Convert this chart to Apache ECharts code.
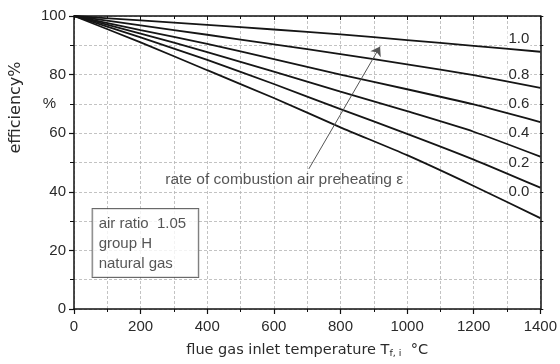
<!DOCTYPE html>
<html>
<head>
<meta charset="utf-8">
<script src="https://cdn.jsdelivr.net/npm/echarts@6/dist/echarts.min.js"></script>
<style>
  html, body { margin: 0; padding: 0; background: #fff; }
  #chart { width: 560px; height: 364px; }
</style>
</head>
<body>
<div id="chart"></div>
<script>
// Flue gas inlet temperature (°C)
const temps = [0, 200, 400, 600, 800, 1000, 1200, 1400];

// Efficiency (%) for each rate of combustion air preheating ε
const effEps10 = [100, 98.5, 97.0, 95.4, 93.7, 91.8, 89.8, 87.8];
const effEps08 = [100, 96.8, 93.6, 90.3, 87.0, 83.5, 79.8, 75.5];
const effEps06 = [100, 95.2, 90.5, 85.3, 80.0, 75.0, 69.8, 63.8];
const effEps04 = [100, 94.0, 87.7, 81.0, 74.2, 67.5, 60.5, 52.0];
const effEps02 = [100, 92.7, 85.0, 76.8, 68.2, 59.8, 51.0, 41.4];
const effEps00 = [100, 91.0, 81.5, 72.0, 62.0, 52.5, 42.0, 31.0];

const epsNames = ['1.0', '0.8', '0.6', '0.4', '0.2', '0.0'];
const epsCurves = [effEps10, effEps08, effEps06, effEps04, effEps02, effEps00];

// Right-hand axis values that carry the ε labels
const epsLabelAt = [90, 80, 70, 60, 50, 40];

const xTicks = [0, 200, 400, 600, 800, 1000, 1200, 1400];
const yTicks = [0, 20, 40, 60, 80, 100];

// Annotation anchors (data units)
const boxAnchor = [56, 34.1];
const noteAnchor = [274, 44.1];
const arrowFrom = [705, 47.8];
const arrowTo = [919, 89.6];

const FONT = 'Liberation Sans, Arial, sans-serif';
const WIDE = 'DejaVu Sans, sans-serif';
const INK = '#2a2a2a';
const gridLine = { show: true, lineStyle: { color: '#b4b4b4', type: [3, 2], width: 0.8 } };

const chart = echarts.init(document.getElementById('chart'), null, { renderer: 'canvas' });

const lineSeries = epsCurves.map((vals, i) => ({
  name: 'ε = ' + epsNames[i],
  type: 'line',
  xAxisIndex: 0,
  yAxisIndex: 0,
  data: temps.map((t, k) => [t, vals[k]]),
  symbol: 'none',
  smooth: 0.2,
  lineStyle: { color: '#151515', width: 1.8 },
  silent: true,
  z: 3
}));

const epsLabelMap = {};
epsLabelAt.forEach((v, i) => { epsLabelMap[v] = epsNames[i]; });

const option = {
  backgroundColor: '#fff',
  animation: false,
  textStyle: { fontFamily: FONT },
  grid: { left: 73, right: 16, top: 16, bottom: 49 },
  xAxis: [
    {
      type: 'value', position: 'bottom',
      min: 0, max: 1400, interval: 200,
      axisLine: { show: true, onZero: false, lineStyle: { color: '#111', width: 1.5 } },
      axisTick: { show: true, inside: false, length: 5, lineStyle: { color: '#111', width: 1.2 } },
      minorTick: { show: true, splitNumber: 2, length: 3, lineStyle: { color: '#111', width: 1 } },
      axisLabel: {
        fontSize: 15, color: INK, margin: 10, fontFamily: FONT,
        formatter: v => (xTicks.indexOf(v) >= 0 ? String(v) : '')
      },
      splitLine: gridLine,
      minorSplitLine: gridLine,
      name: 'flue gas inlet temperature T{sub|f, i}  °C',
      nameLocation: 'middle',
      nameGap: 33,
      nameTextStyle: {
        fontSize: 14.5, color: INK, fontFamily: WIDE,
        rich: { sub: { fontSize: 9.5, color: INK, fontFamily: WIDE, verticalAlign: 'bottom', padding: [7, 0, 0, 0] } }
      }
    },
    {
      type: 'value', position: 'top',
      min: 0, max: 1400, interval: 200,
      axisLine: { show: true, onZero: false, lineStyle: { color: '#111', width: 1.5 } },
      axisTick: { show: true, inside: true, length: 4, lineStyle: { color: '#111', width: 1 } },
      minorTick: { show: true, splitNumber: 2, length: 3, lineStyle: { color: '#111', width: 1 } },
      axisLabel: { show: false },
      splitLine: { show: false }
    }
  ],
  yAxis: [
    {
      type: 'value', position: 'left',
      min: 0, max: 100, interval: 20,
      axisLine: { show: true, onZero: false, lineStyle: { color: '#111', width: 1.5 } },
      axisTick: { show: true, inside: false, length: 5, lineStyle: { color: '#111', width: 1.2 } },
      minorTick: { show: true, splitNumber: 2, length: 4, lineStyle: { color: '#111', width: 1 } },
      axisLabel: {
        fontSize: 15, color: INK, margin: 8, fontFamily: FONT,
        formatter: v => (yTicks.indexOf(v) >= 0 ? String(v) : '')
      },
      splitLine: gridLine,
      minorSplitLine: gridLine,
      name: 'efficiency%',
      nameLocation: 'middle',
      nameGap: 50,
      nameRotate: 90,
      nameTextStyle: { fontSize: 16, color: INK, fontFamily: WIDE, padding: [0, 0, 0, 110] }
    },
    {
      // unit marker between the 60 and 80 labels
      type: 'value', position: 'left', offset: 0,
      min: 0, max: 100, interval: 10,
      axisLine: { show: false },
      axisTick: { show: false },
      splitLine: { show: false },
      axisLabel: {
        fontSize: 15, color: INK, margin: 18, fontFamily: FONT,
        formatter: v => (v === 70 ? '%' : '')
      }
    },
    {
      // right frame carrying the ε labels
      type: 'value', position: 'right', offset: 0,
      min: 0, max: 100, interval: 10,
      axisLine: { show: true, onZero: false, lineStyle: { color: '#111', width: 1.5 } },
      axisTick: { show: true, inside: false, length: 3, lineStyle: { color: '#111', width: 1 } },
      splitLine: { show: false },
      axisLabel: {
        inside: true, margin: 10, fontSize: 15, color: INK, fontFamily: FONT,
        backgroundColor: '#fff', padding: [1, 1, 1, 1],
        formatter: v => {
          const s = epsLabelMap[v];
          if (!s) return '';
          return v === 90 ? '{hi|' + s + '}' : s;
        },
        rich: { hi: { fontSize: 15, color: INK, fontFamily: FONT, padding: [0, 0, 12, 0] } }
      }
    }
  ],
  series: lineSeries.concat([
    {
      name: 'notes',
      type: 'scatter',
      xAxisIndex: 0,
      yAxisIndex: 0,
      symbolSize: 0,
      silent: true,
      z: 5,
      data: [
        {
          value: boxAnchor,
          label: {
            show: true,
            position: [0, 0],
            formatter: 'air ratio  1.05\ngroup H\nnatural gas',
            fontSize: 15, color: INK, fontFamily: FONT,
            lineHeight: 20,
            backgroundColor: '#fff',
            borderColor: '#444', borderWidth: 1,
            padding: [5, 12, 3, 6]
          }
        },
        {
          value: noteAnchor,
          label: {
            show: true,
            position: 'right',
            distance: 0,
            formatter: 'rate of combustion air preheating ε',
            fontSize: 15.5, color: INK, fontFamily: FONT
          }
        }
      ],
      markLine: {
        silent: true,
        symbol: ['none', 'arrow'],
        symbolSize: 9,
        label: { show: false },
        lineStyle: { color: '#555', width: 1, type: 'solid' },
        data: [[{ coord: arrowFrom }, { coord: arrowTo }]]
      }
    }
  ])
};

chart.setOption(option);
</script>
</body>
</html>
